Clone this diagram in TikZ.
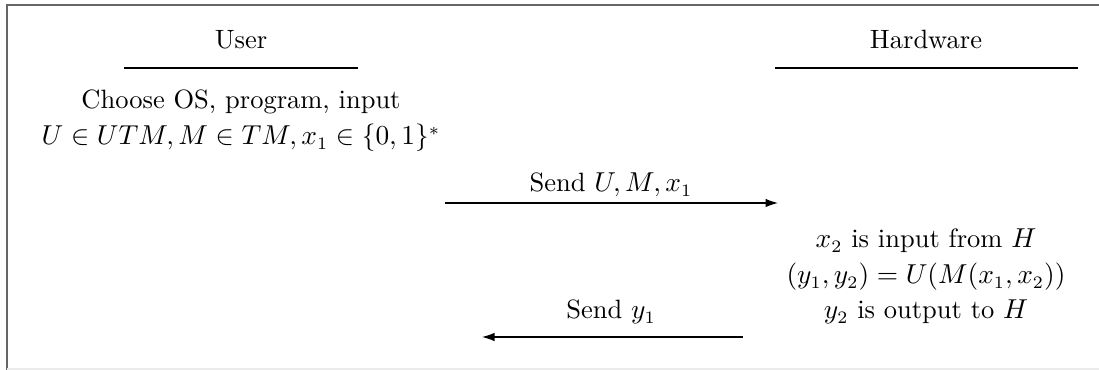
\documentclass[tikz,border=0pt]{standalone}
\usetikzlibrary{arrows.meta}
\begin{document}
\begin{tikzpicture}[x=0.4pt,y=-0.4pt,
  lbl/.style={inner sep=0pt,anchor=base,font=\fontsize{10.6}{12.5}\selectfont},
  rule/.style={line width=0.5pt},
  msg/.style={line width=0.45pt,-{Latex[length=5pt,width=3.4pt]}},
  frame/.style={draw=black!60,line width=0.9pt}]
\useasboundingbox (0,0) rectangle (1099,370);
% window frame
\draw[frame] (7,370) -- (7,5) -- (1099,5);
\draw[black!8,line width=0.6pt] (7,369) -- (1099,369);
% column headers
\node[lbl] (user) at (241,49) {User};
\node[lbl] (hw) at (926,49) {Hardware};
\coordinate (ul1) at (124,68); \coordinate (ul2) at (358,68);
\coordinate (hl1) at (775,68); \coordinate (hl2) at (1078,68);
\draw[rule] (ul1) -- (ul2);
\draw[rule] (hl1) -- (hl2);
% user side
\node[lbl] (choose) at (241,109) {Choose OS, program, input};
\node[lbl] (sel) at (241,145) {$U \in UTM, M \in TM, x_1 \in \{0,1\}^*$};
% first message
\node[lbl] (send1) at (611,192) {Send $U, M, x_1$};
\coordinate (a1) at (445,203); \coordinate (b1) at (778,203);
\draw[msg] (a1) -- (b1);
% hardware side
\node[lbl] (in) at (926,248) {$x_2$ is input from $H$};
\node[lbl] (run) at (926,284) {$(y_1, y_2) = U(M(x_1, x_2))$};
\node[lbl] (out) at (926,319) {$y_2$ is output to $H$};
% reply
\node[lbl] (send2) at (611,319) {Send $y_1$};
\coordinate (a2) at (743,337); \coordinate (b2) at (482,337);
\draw[msg] (a2) -- (b2);
\end{tikzpicture}
\end{document}
